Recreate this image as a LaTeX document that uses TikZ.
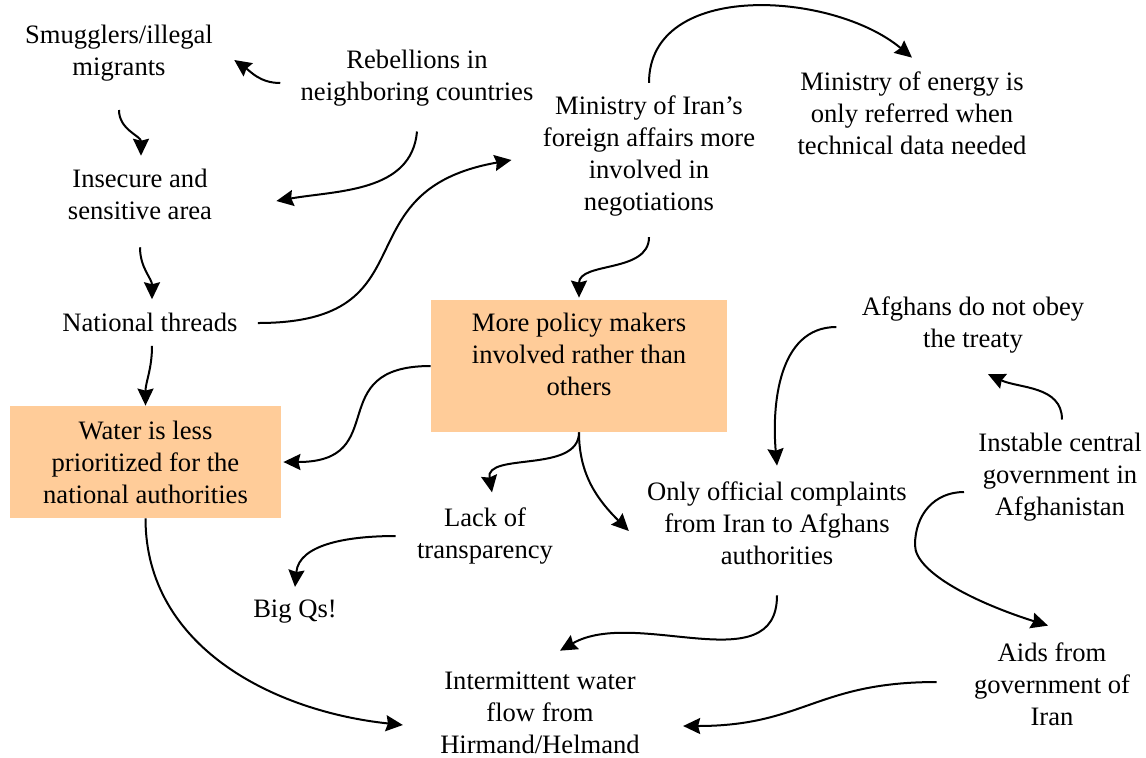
\documentclass[tikz,border=0pt]{standalone}
\usepackage{fontspec}
\setmainfont{Liberation Serif}
\usepackage{xcolor}
\usepackage{tikz}
\usetikzlibrary{arrows.meta, positioning}
\definecolor{peach}{RGB}{255, 204, 153}

\begin{document}
\begin{tikzpicture}[x=0.5pt, y=0.5pt,
    txt/.style={align=center, inner sep=2pt, font=\fontsize{13.3}{16}\selectfont},
    pbox/.style={txt, fill=peach},
    flow/.style={-{Stealth[length=8.5pt, width=8pt, inset=1pt]}, line width=1pt}]
    \useasboundingbox (0,0) rectangle (1146,-757);

    % Security side
    \node[txt] (smug) at (119,-53.5) {Smugglers/illegal\\migrants};
    \node[txt] (rebel) at (417,-78) {Rebellions in\\neighboring countries};
    \node[txt] (insec) at (140,-194.5) {Insecure and\\sensitive area};
    \node[txt] (nat) at (150,-322) {National threads};
    \node[pbox, minimum width=135.5pt, minimum height=56pt] (water) at (145.5,-462) {Water is less\\prioritized for the\\national authorities};

    % Ministries
    \node[txt] (mini) at (649,-155.5) {Ministry of Iran’s\\foreign affairs more\\involved in\\negotiations};
    \node[txt] (energy) at (912,-113.5) {Ministry of energy is\\only referred when\\technical data needed};
    \node[fill=peach, minimum width=148pt, minimum height=66pt, inner sep=0pt] (policy) at (579,-366) {};
    \node[txt] (policytxt) at (579,-354) {More policy makers\\involved rather than\\others};

    % Afghan side
    \node[txt] (afgh) at (973,-324.5) {Afghans do not obey\\the treaty};
    \node[txt] (instab) at (1060,-477) {Instable central\\government in\\Afghanistan};
    \node[txt] (only) at (777,-523.5) {Only official complaints\\from Iran to Afghans\\authorities};
    \node[txt] (aids) at (1052,-684.5) {Aids from\\government of\\Iran};

    % Outcomes
    \node[txt] (lack) at (485,-536) {Lack of\\transparency};
    \node[txt] (bigq) at (295,-612) {Big Qs!};
    \node[txt] (inter) at (540,-713) {Intermittent water\\flow from\\Hirmand/Helmand};

    % Links
    \draw[flow] ([xshift=-8pt, yshift=-2.5pt]rebel.west) to[out=180, in=-35] ([xshift=8.5pt, yshift=-3.25pt]smug.east);
    \draw[flow] ([yshift=-12pt]smug.south) to[out=-90, in=90] ([xshift=0.5pt, yshift=4.5pt]insec.north);
    \draw[flow] ([yshift=-11.5pt]insec.south) to[out=-90, in=90] ([xshift=1pt, yshift=4.5pt]nat.north);
    \draw[flow] ([yshift=-10.5pt]rebel.south) to[out=-95, in=10] ([xshift=30pt, yshift=-3.25pt]insec.east);
    \draw[flow] ([xshift=8pt, yshift=-0.5pt]nat.east) to[out=0, in=190, looseness=1.5] ([xshift=-13.5pt, yshift=-2.25pt]mini.west);
    \draw[flow] ([yshift=4pt]mini.north) to[out=90, in=140] ([yshift=5pt]energy.north);
    \draw[flow] ([yshift=-8.5pt]mini.south) to[out=-90, in=90] ([yshift=1pt]policy.north);
    \draw[flow] ([xshift=1pt, yshift=-5pt]nat.south) to[out=-90, in=90] (water.north);
    \draw[flow] (policy.west) to[out=180, in=0, looseness=1.6] ([xshift=1pt]water.east);
    \draw[flow] (policy.south) to[out=-90, in=100] ([xshift=3.5pt, yshift=5.5pt]lack.north);
    \draw[flow] ([xshift=-8.5pt]lack.west) to[out=180, in=85] ([yshift=4.5pt]bigq.north);
    \draw[flow] (water.south) to[out=-90, in=174] ([xshift=-16.5pt, yshift=-6pt]inter.west);
    \draw[flow] (policy.south) to[out=-90, in=135] ([xshift=-7pt, yshift=-3.75pt]only.west);
    \draw[flow] ([xshift=-10.5pt, yshift=-1.25pt]afgh.west) to[out=180, in=95] ([yshift=6pt]only.north);
    \draw[flow] ([xshift=1pt, yshift=4.5pt]instab.north) to[out=90, in=-25] ([xshift=7.5pt, yshift=-8.5pt]afgh.south);
    \draw[flow] ([xshift=-5pt, yshift=-7.5pt]instab.west) .. controls +(-30,0) and +(0,30) .. ++(-49,-53)
        .. controls +(0,-28) and +(-70,22) .. ([xshift=-2pt, yshift=6.5pt]aids.north);
    \draw[flow] ([yshift=-13pt]only.south) to[out=-90, in=30] ([xshift=10pt, yshift=8.5pt]inter.north);
    \draw[flow] ([xshift=-16.5pt, yshift=1.25pt]aids.west) to[out=180, in=0, looseness=1.2] ([xshift=19.5pt, yshift=-6.5pt]inter.east);
\end{tikzpicture}
\end{document}
